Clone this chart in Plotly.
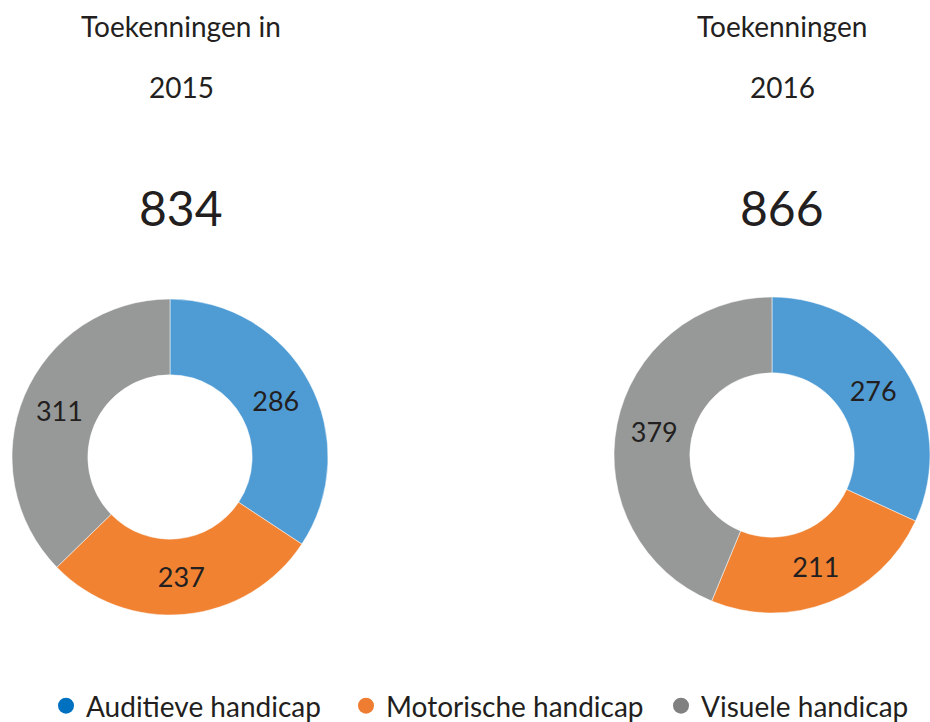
import plotly.graph_objects as go

categories = ["Auditieve handicap", "Motorische handicap", "Visuele handicap"]
values_2015 = [286, 237, 311]
values_2016 = [276, 211, 379]
total_2015 = 834
total_2016 = 866
slice_colors = ["#4f9cd5", "#f08232", "#979998"]
legend_colors = ["#0070c0", "#ee7d31", "#808080"]

W, H = 930, 722
FONT = "Lato"
TXT = "#231f20"

fig = go.Figure()

def px_dom(x0, x1, y0, y1):
    return dict(x=[x0 / W, min(x1 / W, 1)], y=[1 - y1 / H, 1 - y0 / H])

fig.add_trace(go.Pie(
    labels=categories, values=values_2015, sort=False, direction="clockwise",
    rotation=0, hole=0.52, textinfo="value", textposition="inside",
    insidetextorientation="horizontal",
    textfont=dict(family=FONT, size=27, color=TXT),
    marker=dict(colors=slice_colors, line=dict(color="white", width=0.5)),
    domain=px_dom(12, 328, 299, 615), showlegend=False, hoverinfo="label+value"))

fig.add_trace(go.Pie(
    labels=categories, values=values_2016, sort=False, direction="clockwise",
    rotation=0, hole=0.52, textinfo="value", textposition="inside",
    insidetextorientation="horizontal",
    textfont=dict(family=FONT, size=27, color=TXT),
    marker=dict(colors=slice_colors, line=dict(color="white", width=0.5)),
    domain=px_dom(614, 930, 297, 613), showlegend=False, hoverinfo="label+value"))

legend_ids = ["legend", "legend2", "legend3"]
legend_left_px = [46, 346, 661]
for name, col, lid in zip(categories, legend_colors, legend_ids):
    fig.add_trace(go.Scatter(x=[None], y=[None], mode="markers", name=name,
                             legend=lid,
                             marker=dict(color=col, size=16, symbol="circle")))

annos = [
    ("Toekenningen in", 181, 26, 28),
    ("2015", 181, 87, 28),
    (str(total_2015), 181, 207, 48),
    ("Toekenningen", 782, 26, 28),
    ("2016", 782, 87, 28),
    (str(total_2016), 782, 207, 48),
]
for t, x, y, s in annos:
    fig.add_annotation(text=t, x=x / W, y=1 - y / H, xref="paper", yref="paper",
                       showarrow=False, xanchor="center", yanchor="middle",
                       font=dict(family=FONT, size=s, color=TXT))

legend_common = dict(orientation="h", xanchor="left", y=1 - 706 / H, yanchor="middle",
                     font=dict(family=FONT, size=28, color=TXT),
                     itemsizing="trace", bgcolor="rgba(0,0,0,0)")

fig.update_layout(
    width=W, height=H, margin=dict(l=0, r=0, t=0, b=0, autoexpand=False),
    paper_bgcolor="white", plot_bgcolor="white",
    xaxis=dict(visible=False), yaxis=dict(visible=False),
    legend=dict(x=legend_left_px[0] / W, **legend_common),
    legend2=dict(x=legend_left_px[1] / W, **legend_common),
    legend3=dict(x=legend_left_px[2] / W, **legend_common),
)

fig.write_html("out.html", config={"displayModeBar": False},
               post_script="document.body.style.margin='0';document.body.style.overflow='hidden';")
